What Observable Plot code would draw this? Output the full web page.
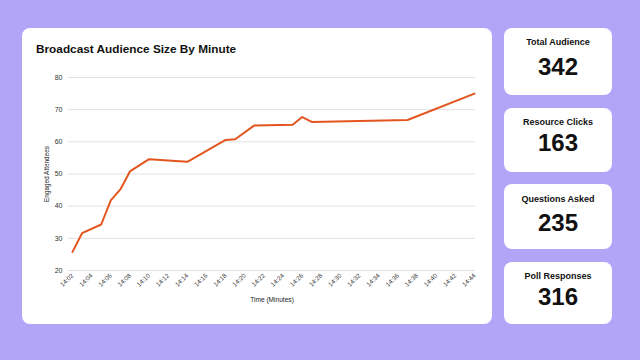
<!DOCTYPE html>
<html><head><meta charset="utf-8">
<script src="https://cdn.jsdelivr.net/npm/d3@7"></script>
<script src="https://cdn.jsdelivr.net/npm/@observablehq/plot@0.6"></script>
<style>
html,body{margin:0;padding:0}
body{width:640px;height:360px;background:#b2a5f8;font-family:"Liberation Sans",Arial,sans-serif;overflow:hidden;position:relative}
.card{position:absolute;background:#fff;border-radius:8px}
#main{left:22px;top:28px;width:470px;height:296px}
#title{position:absolute;left:14px;top:16px;font-size:11.8px;font-weight:bold;color:#111;line-height:1;white-space:nowrap}
#chart{position:absolute;left:0;top:32px}
.stat{left:504px;width:108px}
.lab{position:absolute;left:0;right:0;text-align:center;font-weight:bold;font-size:9px;line-height:1;color:#111}
.num{position:absolute;left:0;right:0;text-align:center;font-weight:bold;font-size:24px;line-height:1;color:#111}
</style></head>
<body>
<div class="card" id="main"><div id="title"></div><div id="chart"></div></div>
<script>
const chartTitle = "Broadcast Audience Size By Minute";
const times = ["14:02","14:03","14:05","14:06","14:07","14:08","14:10","14:14","14:18","14:19","14:21","14:25","14:26","14:27","14:37","14:44"];
const attendees = [25.8,31.6,34.3,41.8,45.2,50.8,54.6,53.8,60.6,60.8,65.1,65.3,67.7,66.2,66.8,75.0];
const xTickLabels = ["14:02","14:04","14:06","14:08","14:10","14:12","14:14","14:16","14:18","14:20","14:22","14:24","14:26","14:28","14:30","14:32","14:34","14:36","14:38","14:40","14:42","14:44"];
const yTicks = [20,30,40,50,60,70,80];
const xLabel = "Time (Minutes)";
const yLabel = "Engaged Attendees";
const statLabels = ["Total Audience","Resource Clicks","Questions Asked","Poll Responses"];
const statValues = [342,163,235,316];

// layout (not data)
const cardBoxes = [{top:28,h:67,l:14,n:39},{top:108,h:64,l:14,n:35},{top:184,h:65,l:15,n:39},{top:262,h:62,l:14,n:35}];

const parse = s => { const [h,m] = s.split(":").map(Number); return new Date(Date.UTC(2024,0,1,h,m)); };
const data = times.map((t,i) => ({t: parse(t), v: attendees[i]}));
const tickDates = xTickLabels.map(parse);
const fmt = d3.utcFormat("%H:%M");

document.getElementById("title").textContent = chartTitle;

const font = "'Liberation Sans', Arial, sans-serif";
const plot = Plot.plot({
  width: 470, height: 262,
  marginTop: 17, marginBottom: 52, marginLeft: 46, marginRight: 17,
  insetLeft: 4, insetRight: 1,
  x: {type: "utc", domain: [tickDates[0], tickDates[tickDates.length-1]]},
  y: {domain: [20, 80]},
  style: {fontFamily: font, color: "#222", background: "transparent", overflow: "visible"},
  marks: [
    Plot.ruleY(yTicks, {stroke: "#e2e2e2", strokeWidth: 1}),
    Plot.axisY({ticks: yTicks, tickSize: 0, tickPadding: 6, label: null, fontSize: 7, fill: "#333"}),
    Plot.axisX({ticks: tickDates, tickFormat: fmt, tickSize: 0, tickPadding: 4, tickRotate: -45, label: null, fontSize: 6.3, fill: "#333"}),
    Plot.text([yLabel], {frameAnchor: "left", textAnchor: "middle", rotate: -90, dx: -22, fontSize: 6.4, fill: "#222"}),
    Plot.text([xLabel], {frameAnchor: "bottom", textAnchor: "middle", dy: 31, fontSize: 6.6, fill: "#222"}),
    Plot.lineY(data, {x: "t", y: "v", stroke: "#e4561f", strokeWidth: 2, curve: "linear"})
  ]
});
document.getElementById("chart").appendChild(plot);

statLabels.forEach((lab, i) => {
  const b = cardBoxes[i];
  const c = document.createElement("div");
  c.className = "card stat";
  c.style.top = b.top + "px";
  c.style.height = b.h + "px";
  const l = document.createElement("div");
  l.className = "lab"; l.textContent = lab; l.style.top = (b.l - 4.5) + "px";
  const n = document.createElement("div");
  n.className = "num"; n.textContent = statValues[i]; n.style.top = (b.n - 12) + "px";
  c.appendChild(l); c.appendChild(n);
  document.body.appendChild(c);
});
</script>
</body></html>
